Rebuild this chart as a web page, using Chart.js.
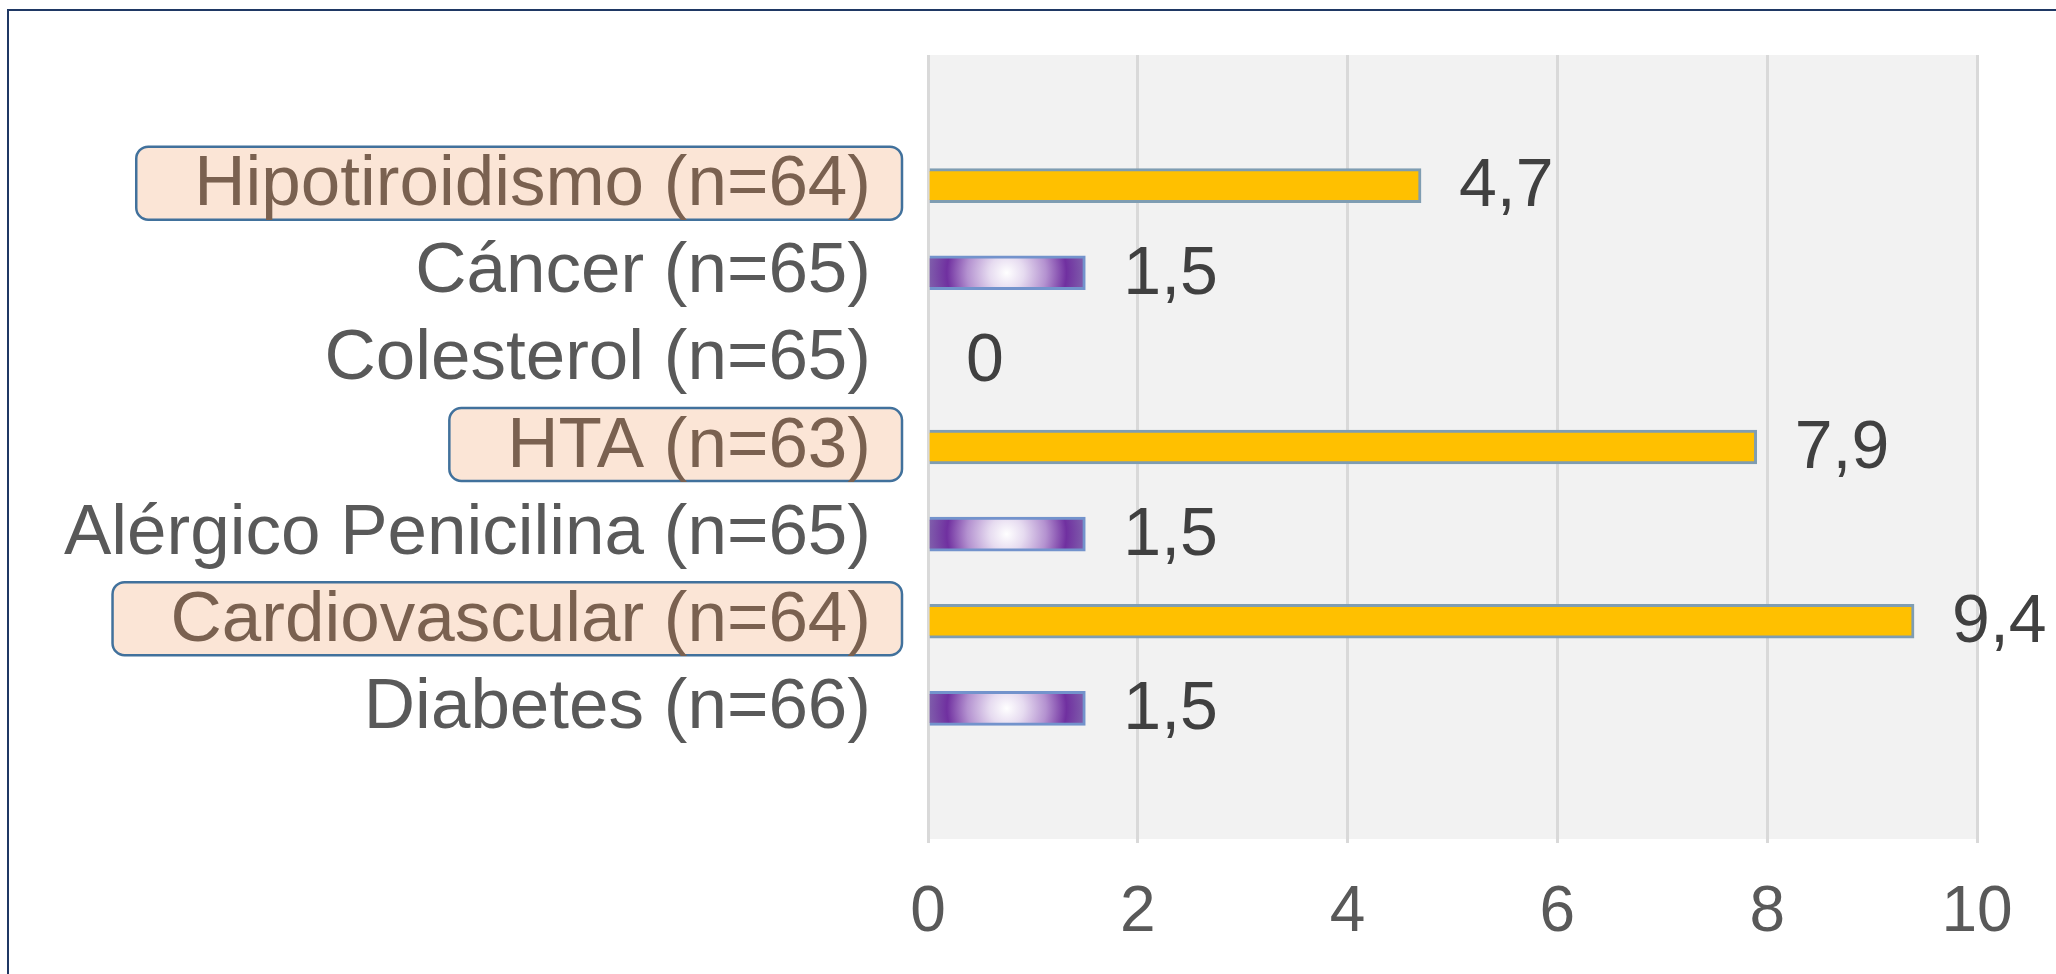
<!DOCTYPE html>
<html>
<head>
<meta charset="utf-8">
<script src="https://cdn.jsdelivr.net/npm/chart.js@4"></script>
<style>
  html, body { margin: 0; padding: 0; background: #ffffff; overflow: hidden; }
  #frame { position: absolute; left: 7px; top: 9px; width: 2200px; height: 1100px; border: 2px solid #1f3864; }
  #chart { position: absolute; left: 0; top: 0; }
</style>
</head>
<body>
<div id="frame"></div>
<canvas id="chart" width="2056" height="974"></canvas>
<script>
// categories top to bottom, values in %
var categories = [
    "Hipotiroidismo (n=64)",
    "Cáncer (n=65)",
    "Colesterol (n=65)",
    "HTA (n=63)",
    "Alérgico Penicilina (n=65)",
    "Cardiovascular (n=64)",
    "Diabetes (n=66)"
];
var values = [4.7, 1.5, 0, 7.9, 1.5, 9.4, 1.5];
var highlighted = ["Hipotiroidismo (n=64)", "HTA (n=63)", "Cardiovascular (n=64)"];
var xMin = 0;
var xMax = 10;
var xStep = 2;

const FONT = "'Liberation Sans', Arial, sans-serif";
const PLOT_LEFT = 928;
const LABEL_SIZE = 71;
const LABEL_PAD = 49;

// one empty slot above and below, like the original spacing
var labels = [""].concat(categories, [""]);
var data = [null].concat(values, [null]);

function isHighlighted(label) {
    return highlighted.indexOf(label) >= 0;
}

function barFill(ctx) {
    if (ctx.type !== "data" || ctx.raw == null) return "#FFC000";
    var label = ctx.chart.data.labels[ctx.dataIndex];
    if (isHighlighted(label)) return "#FFC000";
    var chart = ctx.chart;
    if (!chart.chartArea) return "#7030A0";
    var x0 = chart.scales.x.getPixelForValue(0);
    var x1 = chart.scales.x.getPixelForValue(ctx.raw);
    var yc = chart.scales.y.getPixelForValue(ctx.dataIndex);
    var cx = (x0 + x1) / 2;
    var r = Math.max((x1 - x0) / 2, 1);
    var g = chart.ctx.createRadialGradient(cx, yc, 0, cx, yc, r);
    g.addColorStop(0, "#ffffff");
    g.addColorStop(0.22, "#e6dbf0");
    g.addColorStop(0.5, "#b492d0");
    g.addColorStop(0.76, "#7030a0");
    g.addColorStop(1, "#8060ac");
    return g;
}

function barBorder(ctx) {
    var label = ctx.chart.data.labels[ctx.dataIndex];
    return isHighlighted(label) ? "#7f9db2" : "#7393cc";
}

// grey plot area + boxes behind the highlighted labels
var backgroundPlugin = {
    id: "background",
    beforeDraw: function (chart) {
        var c = chart.ctx;
        var area = chart.chartArea;
        c.save();
        c.fillStyle = "#f2f2f2";
        c.fillRect(area.left, area.top, area.right - area.left, area.bottom - area.top);

        var ys = chart.scales.y;
        c.font = LABEL_SIZE + "px " + FONT;
        var textRight = area.left - LABEL_PAD - 10;
        for (var i = 0; i < labels.length; i++) {
            if (!isHighlighted(labels[i])) continue;
            var y = ys.getPixelForTick(i);
            var w = c.measureText(labels[i]).width;
            var right = textRight + 33;
            var left = textRight - w - 56;
            c.beginPath();
            c.roundRect(left, y - 39, right - left, 73, 12);
            c.fillStyle = "#fbe5d6";
            c.fill();
            c.lineWidth = 2.5;
            c.strokeStyle = "#41719c";
            c.stroke();
        }
        c.restore();
    }
};

// value labels right of the bars
var valueLabelPlugin = {
    id: "valueLabels",
    afterDatasetsDraw: function (chart) {
        var c = chart.ctx;
        var meta = chart.getDatasetMeta(0);
        c.save();
        c.font = "68px " + FONT;
        c.fillStyle = "#404040";
        c.textAlign = "left";
        c.textBaseline = "middle";
        meta.data.forEach(function (bar, i) {
            var v = data[i];
            if (v == null) return;
            c.fillText(String(v).replace(".", ","), bar.x + 38, bar.y + 2);
        });
        c.restore();
    }
};

new Chart("chart", {
    type: "bar",
    data: {
        labels: labels,
        datasets: [{
            data: data,
            backgroundColor: barFill,
            borderColor: barBorder,
            borderWidth: 3,
            barThickness: 34
        }]
    },
    options: {
        indexAxis: "y",
        responsive: false,
        animation: false,
        devicePixelRatio: 1,
        layout: { padding: { top: 55, right: 79, left: 0, bottom: 0 } },
        plugins: {
            legend: { display: false },
            tooltip: { enabled: false }
        },
        scales: {
            x: {
                min: xMin,
                max: xMax,
                ticks: {
                    stepSize: xStep,
                    color: "#595959",
                    font: { family: FONT, size: 64 },
                    padding: 32
                },
                grid: { color: "#d9d9d9", lineWidth: 3, tickLength: 4 },
                border: { display: false },
                afterFit: function (scale) { scale.height = 135; }
            },
            y: {
                ticks: {
                    color: function (ctx) {
                        return isHighlighted(labels[ctx.index]) ? "#7a6150" : "#595959";
                    },
                    font: { family: FONT, size: LABEL_SIZE },
                    padding: LABEL_PAD,
                    autoSkip: false
                },
                grid: { display: false },
                border: { display: false },
                afterFit: function (scale) {
                    scale.width = PLOT_LEFT;
                    scale.paddingTop = 0;
                    scale.paddingBottom = 0;
                }
            }
        }
    },
    plugins: [backgroundPlugin, valueLabelPlugin]
});
</script>
</body>
</html>
